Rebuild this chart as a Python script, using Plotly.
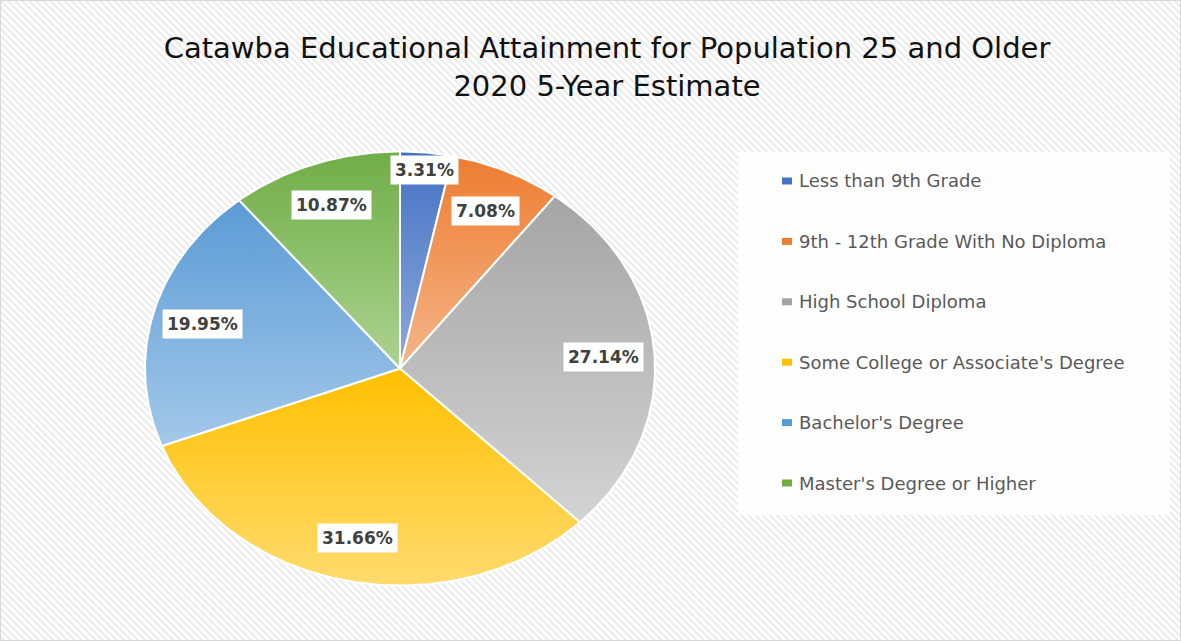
import math
import plotly.graph_objects as go

# Educational attainment shares (percent), clockwise from 12 o'clock
categories = [
    "Less than 9th Grade",
    "9th - 12th Grade With No Diploma",
    "High School Diploma",
    "Some College or Associate's Degree",
    "Bachelor's Degree",
    "Master's Degree or Higher",
]
shares = [3.31, 7.08, 27.14, 31.66, 19.95, 10.87]
# Top (dark) and bottom (light) colour of each slice's vertical gradient
dark_colors = ["#4472c4", "#ed7d31", "#a5a5a5", "#ffc000", "#5b9bd5", "#70ad47"]
light_colors = ["#8eaadc", "#f5b589", "#d3d3d3", "#ffdb6e", "#a3c8e9", "#acd391"]

title_text = "Catawba Educational Attainment for Population 25 and Older<br>2020 5-Year Estimate"

W, H = 1181, 641
CX, CY, RX, RY = 400, 368.5, 255, 217  # pie centre and half-axes in pixels (y from top)

# Axis ranges chosen so the unit circle lands on the pie ellipse
x_range = [-CX / RX, (W - CX) / RX]
y_range = [-(H - CY) / RY, CY / RY]

fig = go.Figure()

# Hatched chart-area background
fig.add_trace(go.Bar(
    x=[(x_range[0] + x_range[1]) / 2], y=[y_range[1] - y_range[0]], base=[y_range[0]],
    width=[x_range[1] - x_range[0]],
    marker=dict(color="white", line=dict(width=0),
                pattern=dict(shape="\\", fgcolor="#d2d2d2", bgcolor="white",
                             size=5, solidity=0.38)),
    hoverinfo="skip", showlegend=False,
))

# Pie slices, clockwise from 12 o'clock
total = sum(shares)
cum = 0.0
mids = []
for name, v, dc, lc in zip(categories, shares, dark_colors, light_colors):
    a0 = cum / total * 2 * math.pi
    cum += v
    a1 = cum / total * 2 * math.pi
    mids.append((a0 + a1) / 2)
    n = max(8, int(v * 4))
    angs = [a0 + (a1 - a0) * k / n for k in range(n + 1)]
    xs = [0.0] + [math.sin(a) for a in angs] + [0.0]
    ys = [0.0] + [math.cos(a) for a in angs] + [0.0]
    fig.add_trace(go.Scatter(
        x=xs, y=ys, mode="lines", fill="toself", name=name,
        line=dict(color="white", width=2),
        fillgradient=dict(type="vertical", colorscale=[[0, lc], [1, dc]]),
        hoveron="fills", text=f"{name}: {v:.2f}%", hoverinfo="text", showlegend=False,
    ))

# Value labels in white boxes along each slice's bisector (thin slices pushed outward)
for v, mid in zip(shares, mids):
    r = 0.92 if v < 5 else 0.8
    fig.add_annotation(
        x=r * math.sin(mid), y=r * math.cos(mid), xref="x", yref="y",
        text=f"<b>{v:.2f}%</b>", showarrow=False,
        font=dict(family="DejaVu Sans", size=17, color="#404040"),
        bgcolor="white", borderpad=4,
    )

# Legend panel
LX0, LY0, LX1, LY1 = 738, 152, 1170, 515
fig.add_shape(type="rect", xref="paper", yref="paper",
              x0=LX0 / W, x1=LX1 / W, y0=1 - LY1 / H, y1=1 - LY0 / H,
              fillcolor="rgba(255,255,255,0.85)", line=dict(width=0), layer="above")
for i, (name, dc) in enumerate(zip(categories, dark_colors)):
    yc = 181 + i * 60.4
    fig.add_shape(type="rect", xref="paper", yref="paper",
                  x0=782 / W, x1=792 / W, y0=1 - (yc + 3.5) / H, y1=1 - (yc - 3.5) / H,
                  fillcolor=dc, line=dict(width=0), layer="above")
    fig.add_annotation(x=797 / W, y=1 - yc / H, xref="paper", yref="paper",
                       xanchor="left", yanchor="middle", showarrow=False, text=name,
                       font=dict(family="DejaVu Sans", size=18, color="#595959"))

# Outer border
fig.add_shape(type="rect", xref="paper", yref="paper", x0=0, x1=1, y0=0, y1=1,
              line=dict(color="#d9d9d9", width=2), layer="above")

fig.update_layout(
    width=W, height=H,
    margin=dict(l=0, r=0, t=0, b=0),
    paper_bgcolor="white", plot_bgcolor="white",
    bargap=0, showlegend=False,
    xaxis=dict(range=x_range, visible=False, fixedrange=True),
    yaxis=dict(range=y_range, visible=False, fixedrange=True),
    title=dict(text=title_text, x=607 / W, xanchor="center", y=1 - 58 / H, yanchor="top",
               font=dict(family="DejaVu Sans", size=29, color="#111111")),
)

fig.write_html("out.html")
